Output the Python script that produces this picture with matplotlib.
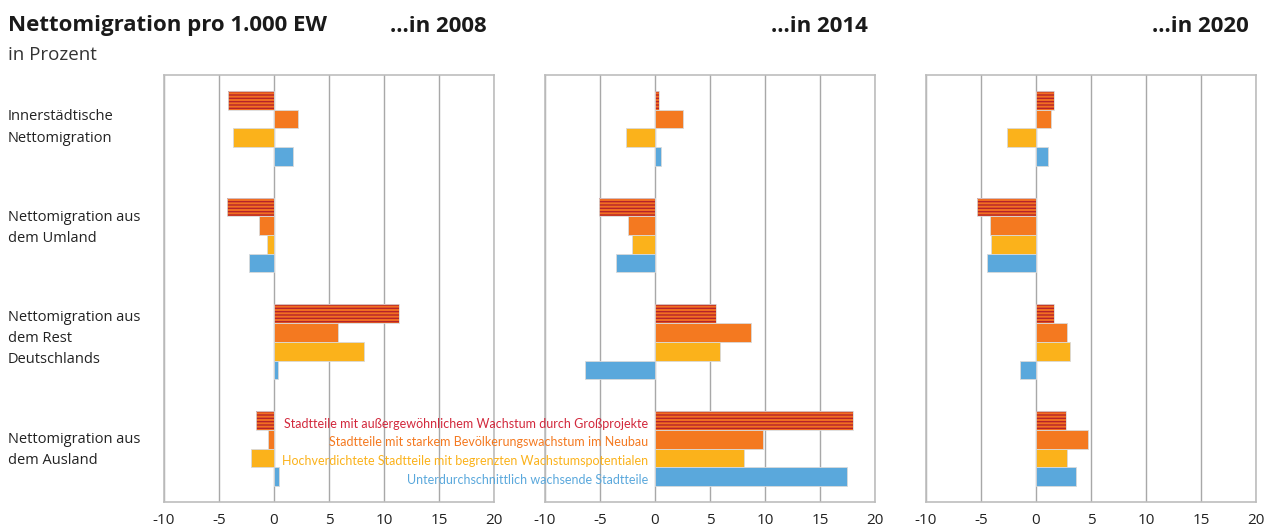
# Nettomigration pro 1.000 EW - drei Jahre nebeneinander
import numpy as np
import matplotlib
matplotlib.use('Agg')
from matplotlib import pyplot as plt

plt.rcParams['font.family'] = ['Open Sans', 'DejaVu Sans']
plt.rcParams['hatch.linewidth'] = 1.0

kategorien = ['Innerstädtische\nNettomigration',
              'Nettomigration aus\ndem Umland',
              'Nettomigration aus\ndem Rest\nDeutschlands',
              'Nettomigration aus\ndem Ausland']

serien = ['Stadtteile mit außergewöhnlichem Wachstum durch Großprojekte',
          'Stadtteile mit starkem Bevölkerungswachstum im Neubau',
          'Hochverdichtete Stadtteile mit begrenzten Wachstumspotentialen',
          'Unterdurchschnittlich wachsende Stadtteile']

jahre = ['2008', '2014', '2020']

# je Jahr: eine Liste pro Serie, Werte in Reihenfolge der Kategorien
werte_2008 = [[-4.2, -4.3, 11.4, -1.6],
              [2.2, -1.4, 5.8, -0.55],
              [-3.75, -0.65, 8.2, -2.1],
              [1.75, -2.3, 0.4, 0.5]]
werte_2014 = [[0.4, -5.1, 5.5, 18.0],
              [2.5, -2.45, 8.75, 9.85],
              [-2.6, -2.1, 5.9, 8.1],
              [0.55, -3.5, -6.4, 17.45]]
werte_2020 = [[1.65, -5.4, 1.6, 2.7],
              [1.4, -4.15, 2.85, 4.7],
              [-2.6, -4.05, 3.05, 2.85],
              [1.1, -4.5, -1.45, 3.6]]
alle_werte = [werte_2008, werte_2014, werte_2020]

farben = ['#F26F22', '#F47920', '#FBB21B', '#5AA8DC']
textfarben = ['#D2283C', '#F47920', '#FBB21B', '#5AA8DC']
streifen = '#B5232A'
grau = '#A8A8A8'

fig = plt.figure(figsize=(12.68, 5.28), dpi=100)

links = [0.1293, 0.4298, 0.7303]
breite = 0.2603
unten, hoehe = 0.0492, 0.809

y = np.arange(len(kategorien))
h = 0.175
offsets = [-1.5 * h, -0.5 * h, 0.5 * h, 1.5 * h]

achsen = []
for j, jahr in enumerate(jahre):
    ax = fig.add_axes([links[j], unten, breite, hoehe])
    achsen.append(ax)
    for s in range(4):
        if s == 0:
            ax.barh(y + offsets[s], alle_werte[j][s], height=h, color=farben[s],
                    edgecolor=streifen, hatch='-----', linewidth=0, zorder=3)
            ax.barh(y + offsets[s], alle_werte[j][s], height=h, fill=False,
                    edgecolor='#D9D9D9', linewidth=0.6, zorder=3)
        else:
            ax.barh(y + offsets[s], alle_werte[j][s], height=h, color=farben[s],
                    edgecolor='#D9D9D9', linewidth=0.6, zorder=3)
    ax.set_xlim(-10, 20)
    ax.set_ylim(3.5, -0.5)
    ax.set_xticks(range(-10, 21, 5))
    ax.set_xticklabels([str(v) for v in range(-10, 21, 5)], fontsize=11, color='#222222')
    ax.set_yticks([])
    ax.tick_params(axis='x', length=0, pad=8)
    ax.grid(axis='x', color=grau, linewidth=1.0, zorder=0)
    for sp in ax.spines.values():
        sp.set_color('#BDBDBD')
        sp.set_linewidth(1.2)
    fig.text(links[j] + breite - 7 / 1268, 1 - 26 / 528, '...in ' + jahr, ha='right',
             va='center', fontsize=16, fontweight='bold', color='#1A1A1A')

# Legende als Text im mittleren Panel
for s in range(4):
    achsen[1].text(-0.6, 3 + offsets[s] + 0.03, serien[s], ha='right', va='center',
                   fontsize=9.0, color=textfarben[s], zorder=4, family=['Lato', 'DejaVu Sans'])

# Kategorien links (Pixelhöhe der Beschriftungsmitte)
label_y = [127.5, 228, 338.5, 450]
for i, kat in enumerate(kategorien):
    fig.text(8 / 1268, 1 - label_y[i] / 528, kat, ha='left', va='center', fontsize=10.5,
             color='#222222', linespacing=1.55)

fig.text(8 / 1268, 1 - 26 / 528, 'Nettomigration pro 1.000 EW', ha='left', va='center',
         fontsize=16, fontweight='bold', color='#1A1A1A')
fig.text(8 / 1268, 1 - 55 / 528, 'in Prozent', ha='left', va='center',
         fontsize=13.5, color='#333333')

plt.savefig('out.png', dpi=100)
